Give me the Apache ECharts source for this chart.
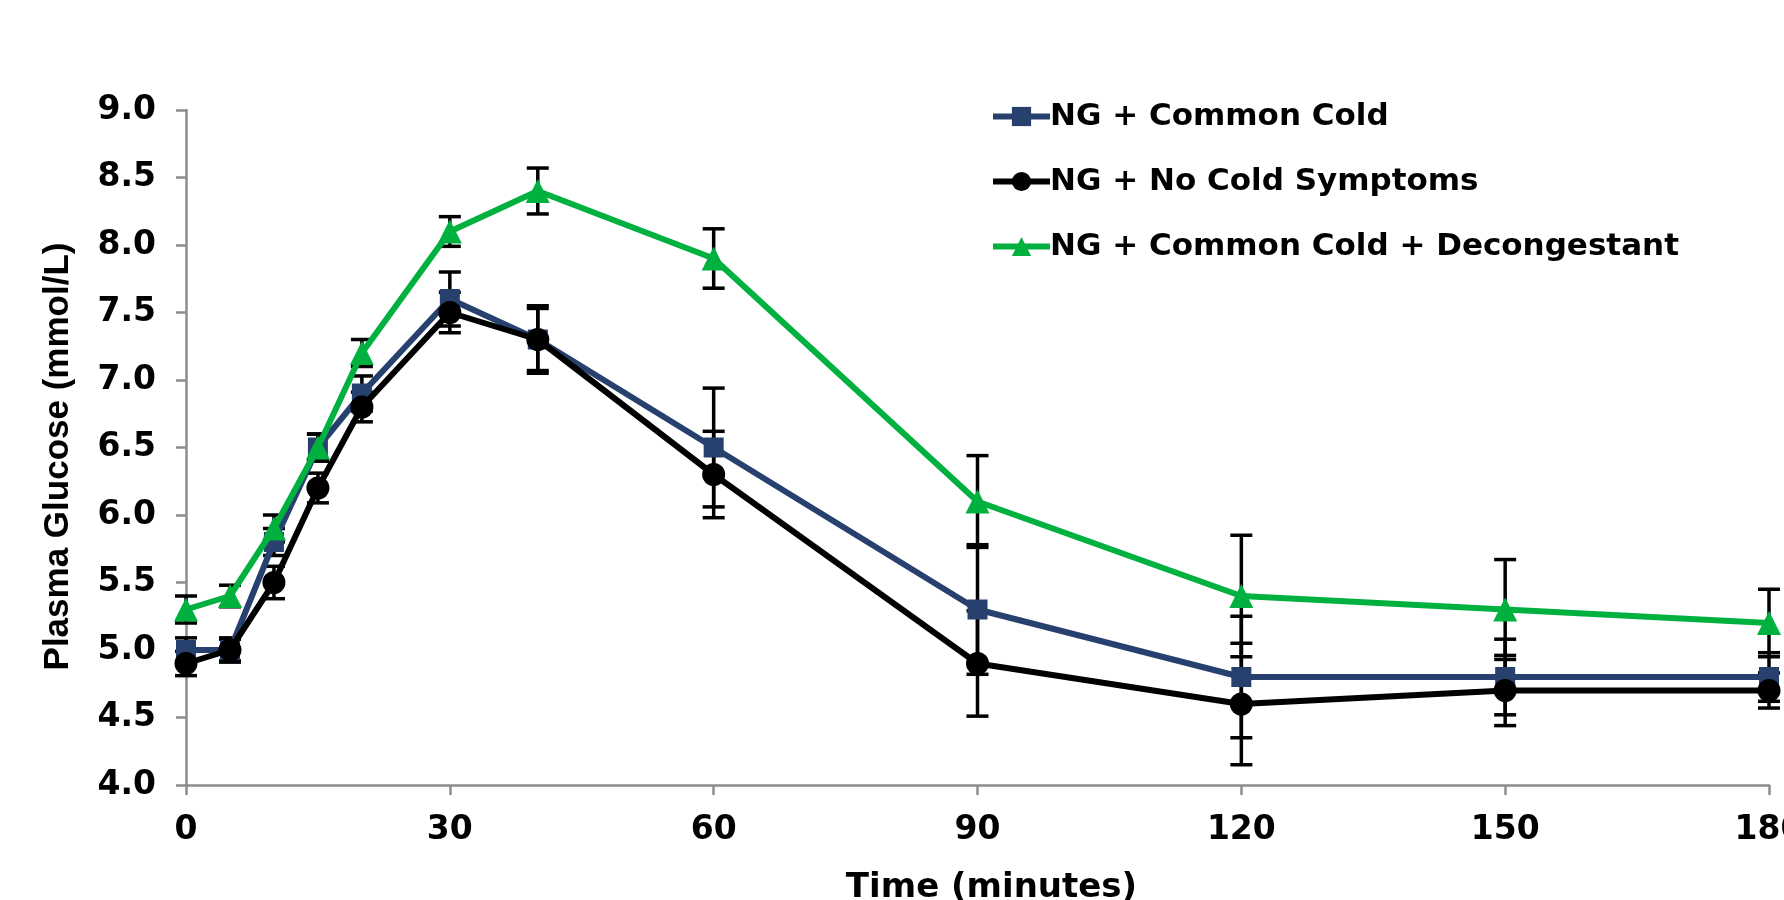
<!DOCTYPE html>
<html>
<head>
<meta charset="utf-8">
<script src="https://cdn.jsdelivr.net/npm/echarts@6/dist/echarts.min.js"></script>
<style>
html,body{margin:0;padding:0;background:#fff;}
#chart{width:1784px;height:900px;}
</style>
</head>
<body>
<div id="chart"></div>
<script>
const times = [0, 5, 10, 15, 20, 30, 40, 60, 90, 120, 150, 180];
const xTicks = [0, 30, 60, 90, 120, 150, 180];
const yTicks = [4.0, 4.5, 5.0, 5.5, 6.0, 6.5, 7.0, 7.5, 8.0, 8.5, 9.0];

const coldName = 'NG + Common Cold';
const coldMean = [5.0, 5.0, 5.8, 6.5, 6.9, 7.6, 7.3, 6.5, 5.3, 4.8, 4.8, 4.8];
const coldErr  = [0.09, 0.08, 0.10, 0.10, 0.13, 0.20, 0.25, 0.44, 0.48, 0.45, 0.28, 0.18];

const noColdName = 'NG + No Cold Symptoms';
const noColdMean = [4.9, 5.0, 5.5, 6.2, 6.8, 7.5, 7.3, 6.3, 4.9, 4.6, 4.7, 4.7];
const noColdErr  = [0.09, 0.09, 0.12, 0.11, 0.11, 0.15, 0.23, 0.32, 0.39, 0.45, 0.26, 0.13];

const decongName = 'NG + Common Cold + Decongestant';
const decongMean = [5.3, 5.4, 5.9, 6.5, 7.2, 8.1, 8.4, 7.9, 6.1, 5.4, 5.3, 5.2];
const decongErr  = [0.10, 0.08, 0.10, 0.10, 0.10, 0.11, 0.17, 0.22, 0.34, 0.45, 0.37, 0.25];

const FONT = "'Liberation Sans', Arial, sans-serif";
const WIDE = "'DejaVu Sans', 'Liberation Sans', sans-serif";

function pairs(means) { return times.map((t, i) => [t, means[i]]); }
function errData(means, errs) { return times.map((t, i) => [t, means[i] - errs[i], means[i] + errs[i]]); }

function renderErr(params, api) {
  const x = api.value(0);
  const lo = api.coord([x, api.value(1)]);
  const hi = api.coord([x, api.value(2)]);
  const w = 11;
  const st = { stroke: '#000', lineWidth: 3.5 };
  return {
    type: 'group',
    children: [
      { type: 'line', shape: { x1: lo[0], y1: lo[1], x2: hi[0], y2: hi[1] }, style: st },
      { type: 'line', shape: { x1: lo[0] - w, y1: lo[1], x2: lo[0] + w, y2: lo[1] }, style: st },
      { type: 'line', shape: { x1: hi[0] - w, y1: hi[1], x2: hi[0] + w, y2: hi[1] }, style: st }
    ]
  };
}

function errSeries(means, errs) {
  return {
    type: 'custom',
    renderItem: renderErr,
    data: errData(means, errs),
    encode: { x: 0, y: [1, 2] },
    z: 1,
    silent: true,
    clip: false
  };
}

const chart = echarts.init(document.getElementById('chart'), null, { renderer: 'canvas' });
chart.setOption({
  animation: false,
  backgroundColor: '#ffffff',
  grid: { left: 186, right: 15, top: 110, bottom: 115, outerBoundsMode: 'none', containLabel: false },
  legend: {
    orient: 'vertical',
    left: 985,
    top: 96,
    itemWidth: 57,
    itemHeight: 24,
    itemGap: 34,
    lineStyle: { width: 6 },
    textStyle: { fontFamily: WIDE, fontWeight: 'bold', fontSize: 31, color: '#000', padding: [0, 0, 0, -5] },
    data: [coldName, noColdName, decongName]
  },
  xAxis: {
    type: 'value',
    min: 0, max: 180, interval: 30,
    name: 'Time (minutes)',
    nameLocation: 'middle',
    nameGap: 86,
    nameTextStyle: { fontFamily: WIDE, fontWeight: 'bold', fontSize: 34, color: '#000', padding: [0, 0, 0, 28] },
    axisLine: { show: true, lineStyle: { color: '#8c8c8c', width: 2.5 } },
    axisTick: { show: true, length: 10, lineStyle: { color: '#8c8c8c', width: 2.5 } },
    axisLabel: {
      fontFamily: WIDE, fontWeight: 'bold', fontSize: 33, color: '#000', margin: 29,
      formatter: v => (xTicks.indexOf(v) >= 0 ? String(v) : '')
    },
    splitLine: { show: false }
  },
  yAxis: {
    type: 'value',
    min: 4, max: 9, interval: 0.5,
    name: 'Plasma Glucose (mmol/L)',
    nameLocation: 'middle',
    nameGap: 110,
    nameTextStyle: { fontFamily: FONT, fontWeight: 'bold', fontSize: 35, color: '#000', padding: [0, 18, 0, 0] },
    axisLine: { show: true, lineStyle: { color: '#8c8c8c', width: 2.5 } },
    axisTick: { show: true, length: 10, lineStyle: { color: '#8c8c8c', width: 2.5 } },
    axisLabel: {
      fontFamily: WIDE, fontWeight: 'bold', fontSize: 33, color: '#000', margin: 30,
      formatter: v => yTicks.find(t => Math.abs(t - v) < 1e-9).toFixed(1)
    },
    splitLine: { show: false }
  },
  series: [
    errSeries(coldMean, coldErr),
    errSeries(noColdMean, noColdErr),
    errSeries(decongMean, decongErr),
    {
      name: coldName, type: 'line', data: pairs(coldMean), z: 3,
      symbol: 'rect', symbolSize: 20, showAllSymbol: true,
      itemStyle: { color: '#27406e' },
      lineStyle: { color: '#27406e', width: 6 }
    },
    {
      name: noColdName, type: 'line', data: pairs(noColdMean), z: 4,
      symbol: 'circle', symbolSize: 23, showAllSymbol: true,
      itemStyle: { color: '#000000' },
      lineStyle: { color: '#000000', width: 6 }
    },
    {
      name: decongName, type: 'line', data: pairs(decongMean), z: 5,
      symbol: 'triangle', symbolSize: 24, showAllSymbol: true,
      itemStyle: { color: '#00b140' },
      lineStyle: { color: '#00b140', width: 6 }
    }
  ]
});
</script>
</body>
</html>
